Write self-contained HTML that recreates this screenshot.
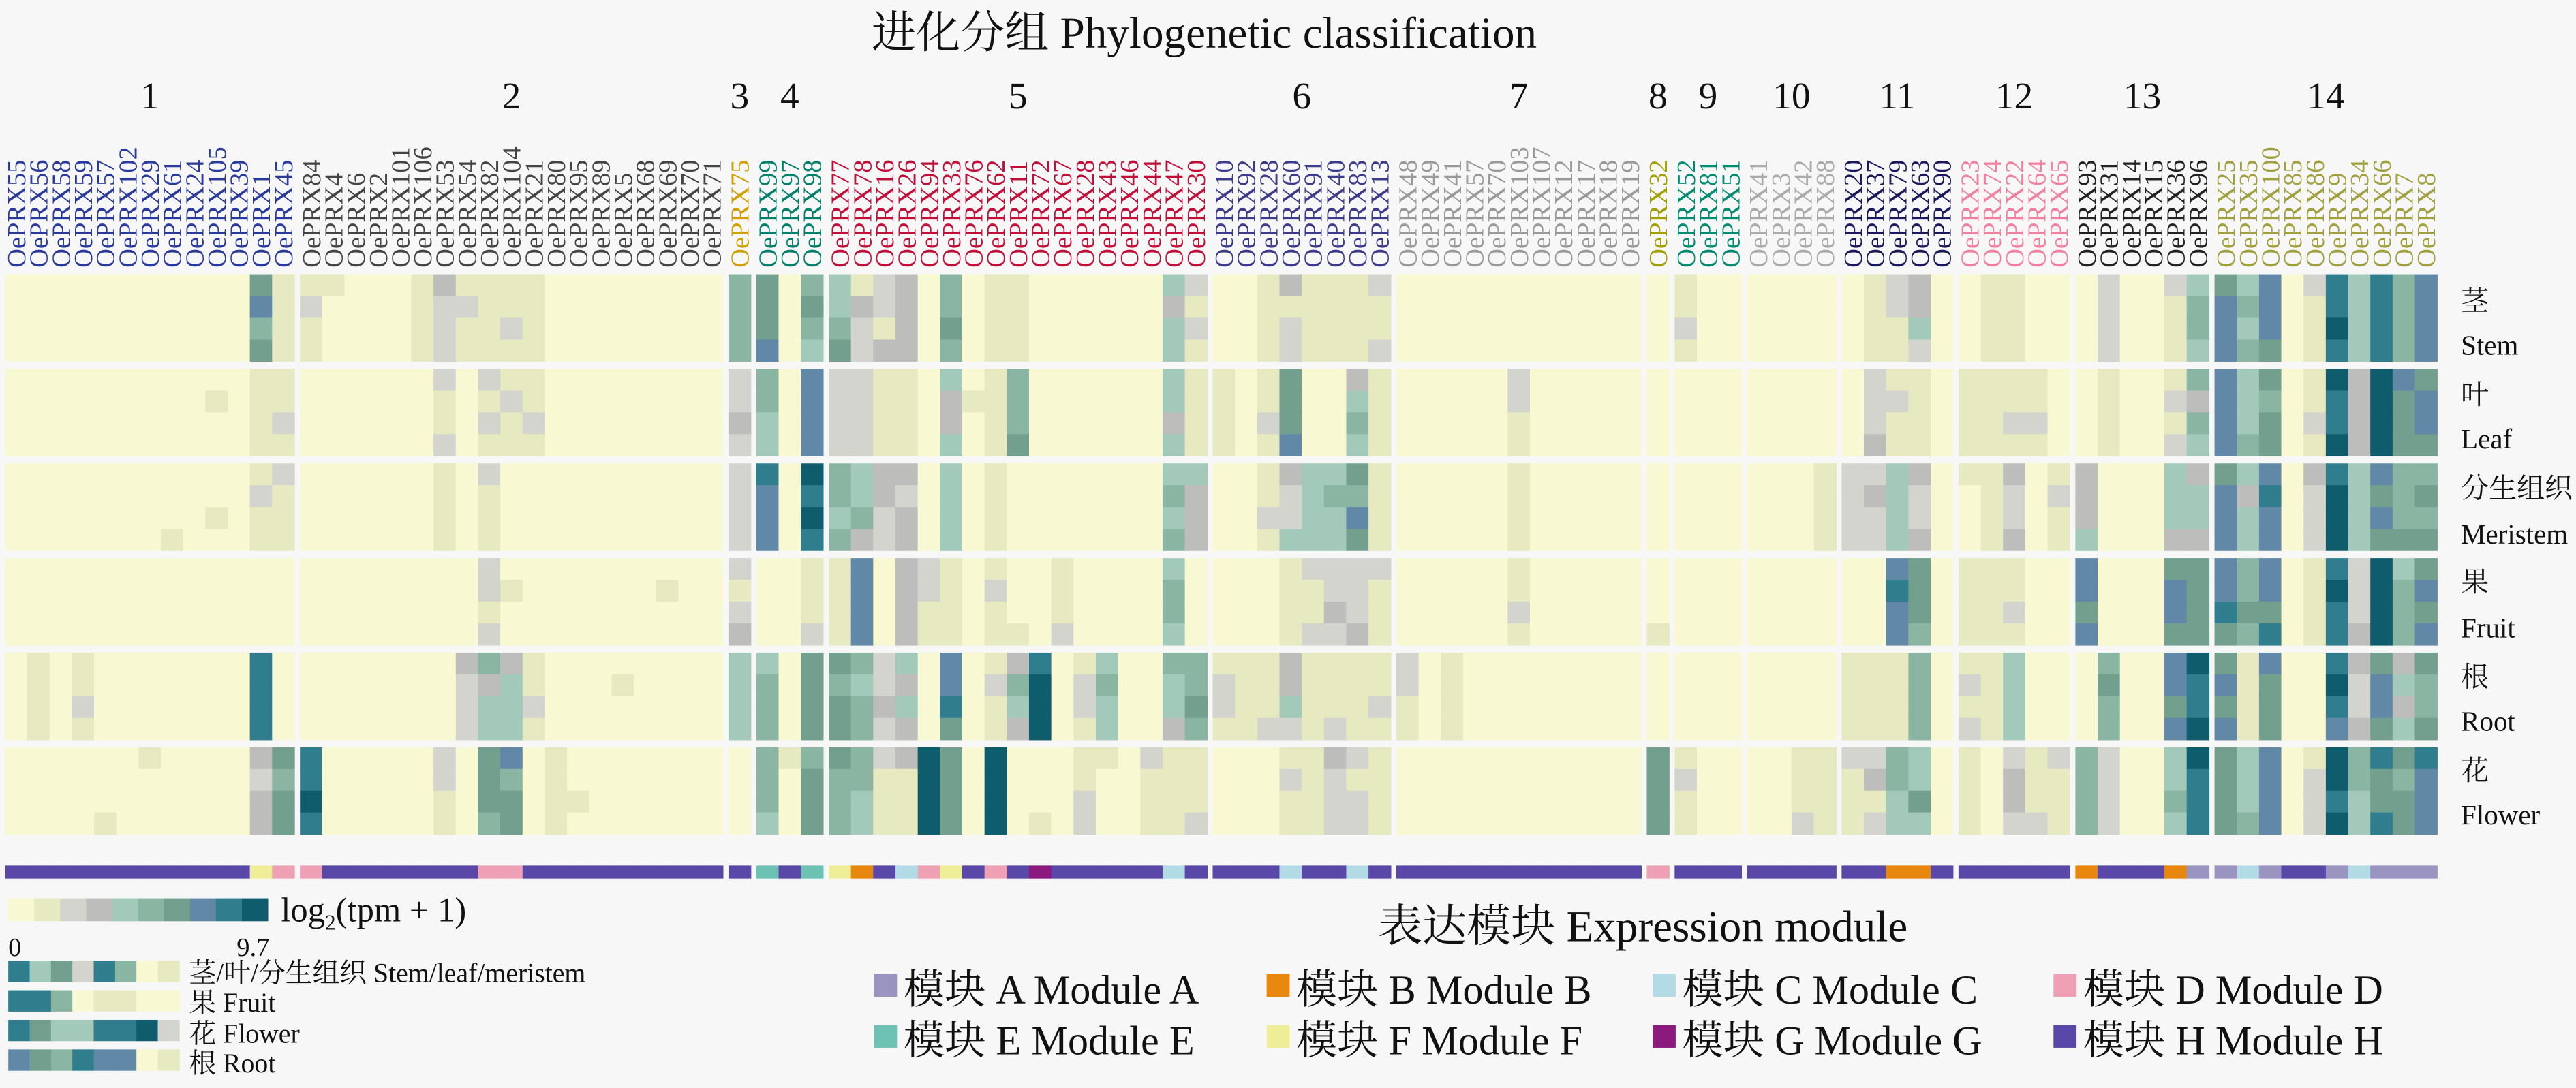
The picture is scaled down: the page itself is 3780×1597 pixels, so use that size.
<!DOCTYPE html>
<html><head><meta charset="utf-8">
<style>
html,body{margin:0;padding:0;background:#f7f7f7;}
svg{display:block;}
text{font-family:"Liberation Serif","Noto Serif CJK SC","Noto Sans CJK SC",serif;}
</style></head>
<body>
<svg id="s" width="3780" height="1597" viewBox="0 0 1568 662.5" xmlns="http://www.w3.org/2000/svg">
<rect width="1568" height="662.5" fill="#f7f7f7"/>
<text x="733" y="29" font-size="27" text-anchor="middle" fill="#111">进化分组 Phylogenetic classification</text>
<g id="hm"></g>
<g font-size="17" fill="#111">
<text x="1498" y="189">茎</text><text x="1498" y="216">Stem</text>
<text x="1498" y="246">叶</text><text x="1498" y="273">Leaf</text>
<text x="1498" y="303">分生组织</text><text x="1498" y="331">Meristem</text>
<text x="1498" y="360">果</text><text x="1498" y="388">Fruit</text>
<text x="1498" y="418">根</text><text x="1498" y="445">Root</text>
<text x="1498" y="475">花</text><text x="1498" y="502">Flower</text>
</g>
<g id="leg"></g>
<text x="171" y="561" font-size="21" fill="#111">log<tspan font-size="13" dy="5">2</tspan><tspan dy="-5">(tpm + 1)</tspan></text>
<text x="5" y="582" font-size="16" fill="#111">0</text>
<text x="144" y="582" font-size="16" fill="#111">9.7</text>
<g font-size="16.5" fill="#111">
<text x="115" y="598">茎/叶/分生组织  Stem/leaf/meristem</text>
<text x="115" y="616">果 Fruit</text>
<text x="115" y="635">花 Flower</text>
<text x="115" y="653">根 Root</text>
</g>
<text x="1000" y="573" font-size="27" text-anchor="middle" fill="#111">表达模块 Expression module</text>
<g font-size="25" fill="#111">
<rect x="532" y="593" width="14" height="14" fill="#9a95c0"/><text x="550" y="611">模块 A Module A</text>
<rect x="771" y="593" width="14" height="14" fill="#e8870e"/><text x="789" y="611">模块 B Module B</text>
<rect x="1006" y="593" width="14" height="14" fill="#b2dbe6"/><text x="1024" y="611">模块 C Module C</text>
<rect x="1250" y="593" width="14" height="14" fill="#f0a0b4"/><text x="1268" y="611">模块 D Module D</text>
<rect x="532" y="624" width="14" height="14" fill="#6ec2b4"/><text x="550" y="642">模块 E Module E</text>
<rect x="771" y="624" width="14" height="14" fill="#eeee98"/><text x="789" y="642">模块 F Module F</text>
<rect x="1006" y="624" width="14" height="14" fill="#8c1a7e"/><text x="1024" y="642">模块 G Module G</text>
<rect x="1250" y="624" width="14" height="14" fill="#5a48a8"/><text x="1268" y="642">模块 H Module H</text>
</g>
</svg>
<script>
var P=["#f8f9d3","#e7e9c1","#d4d4ce","#bdbdbb","#a2c9ba","#8ab5a3","#739f8f","#6288a8","#2f7d8d","#0f5c6c"];
var M={A:"#9a95c0",B:"#e8870e",C:"#b2dbe6",D:"#f0a0b4",E:"#6ec2b4",F:"#eeee98",G:"#8c1a7e",H:"#5a48a8"};
var groups=[
{c:"#2a3a9a",cols:[["OePRX55","000000","H"],["OePRX56","000010","H"],["OePRX58","000000","H"],["OePRX59","000010","H"],["OePRX57","000000","H"],["OePRX102","000000","H"],["OePRX29","000000","H"],["OePRX61","000000","H"],["OePRX24","000000","H"],["OePRX105","000000","H"],["OePRX39","000000","H"],["OePRX1","611083","F"],["OePRX45","111005","D"]]},
{c:"#444",cols:[["OePRX84","100009","D"],["OePRX4","000000","H"],["OePRX6","000000","H"],["OePRX2","000000","H"],["OePRX101","000000","H"],["OePRX106","100000","H"],["OePRX53","211001","H"],["OePRX54","100020","H"],["OePRX82","111146","D"],["OePRX104","110046","D"],["OePRX21","110010","H"],["OePRX80","000001","H"],["OePRX95","000000","H"],["OePRX89","000000","H"],["OePRX5","000000","H"],["OePRX68","000000","H"],["OePRX69","000000","H"],["OePRX70","000000","H"],["OePRX71","000000","H"]]},
{c:"#d0a000",cols:[["OePRX75","522240","H"]]},
{c:"#00806a",cols:[["OePRX99","657055","E"],["OePRX97","000000","H"],["OePRX98","579165","E"]]},
{c:"#c0103a",cols:[["OePRX77","525165","F"],["OePRX78","224755","B"],["OePRX16","212021","H"],["OePRX26","313342","C"],["OePRX94","000109","D"],["OePRX33","534176","F"],["OePRX76","000000","H"],["OePRX62","111119","D"],["OePRX11","150040","H"],["OePRX72","000090","G"],["OePRX67","000100","H"],["OePRX28","000021","H"],["OePRX43","000040","H"],["OePRX46","000000","H"],["OePRX44","000001","H"],["OePRX47","444541","C"],["OePRX30","213051","H"]]},
{c:"#3b3b8a",cols:[["OePRX10","010010","H"],["OePRX92","000010","H"],["OePRX28","111010","H"],["OePRX60","263131","C"],["OePRX91","104111","H"],["OePRX40","104212","H"],["OePRX83","146212","C"],["OePRX13","111111","H"]]},
{c:"#999",cols:[["OePRX48","000010","H"],["OePRX49","000000","H"],["OePRX41","000010","H"],["OePRX57","000000","H"],["OePRX70","000000","H"],["OePRX103","011100","H"],["OePRX107","000000","H"],["OePRX12","000000","H"],["OePRX17","000000","H"],["OePRX18","000000","H"],["OePRX19","000000","H"]]},
{c:"#a0a000",cols:[["OePRX32","000006","D"]]},
{c:"#008a70",cols:[["OePRX52","100001","H"],["OePRX81","000000","H"],["OePRX51","000000","H"]]},
{c:"#aaa",cols:[["OePRX41","000000","H"],["OePRX3","000000","H"],["OePRX42","000001","H"],["OePRX88","001001","H"]]},
{c:"#1a1a5a",cols:[["OePRX20","002011","H"],["OePRX37","122012","H"],["OePRX79","114714","B"],["OePRX63","313655","B"],["OePRX90","000000","H"]]},
{c:"#f080a0",cols:[["OePRX23","010111","H"],["OePRX74","111110","H"],["OePRX22","113142","H"],["OePRX64","010001","H"],["OePRX65","001001","H"]]},
{c:"#222",cols:[["OePRX93","003705","B"],["OePRX31","210052","H"],["OePRX14","000000","H"],["OePRX15","000000","H"],["OePRX36","114674","B"],["OePRX96","544688","A"]]},
{c:"#a0a040",cols:[["OePRX25","777766","A"],["OePRX35","444514","C"],["OePRX100","767767","A"],["OePRX85","000000","H"],["OePRX86","112102","H"],["OePRX9","889889","A"],["OePRX34","434234","C"],["OePRX66","897977","A"],["OePRX7","565546","A"],["OePRX8","776767","A"]]}
];
var NS="http://www.w3.org/2000/svg";
function el(n,a,p,t){var e=document.createElementNS(NS,n);for(var k in a)e.setAttribute(k,a[k]);if(t!=null)e.textContent=t;p.appendChild(e);return e;}
var hm=document.getElementById("hm");
var CW=13.55,GAP=3.4,idx=0;
function h(a,b,c){var x=(a*73856093)^(b*19349663)^(c*83492791);x=(x^(x>>>13))*1274126177;x=x^(x>>>16);return Math.abs(x);}
groups.forEach(function(g,gi){
  var gx0=3+idx*CW+gi*GAP;
  g.cols.forEach(function(c,ci){
    var x=3+idx*CW+gi*GAP;
    for(var t=0;t<6;t++){
      var lv=+c[1][t],y0=167+t*57.6,sh=53/4;
      for(var s=0;s<4;s++){
        var v=lv,r=h(idx,t,s)%7;
        if(lv>0){if(r==0)v=Math.max(1,lv-1);else if(r==1)v=Math.min(9,lv+1);}
        else if(r==0&&h(idx,t,s+9)%10==0)v=1;
        el("rect",{x:x.toFixed(2),y:(y0+s*sh).toFixed(2),width:(CW+0.3).toFixed(2),height:(sh+0.3).toFixed(2),fill:P[v]},hm);
      }
    }
    el("rect",{x:x.toFixed(2),y:527,width:(CW+0.3).toFixed(2),height:8,fill:M[c[2]]},hm);
    var tx=x+CW/2+5.5;
    el("text",{x:0,y:0,transform:"translate("+tx.toFixed(2)+",163) rotate(-90)","font-size":"16",fill:g.c},hm,c[0]);
    idx++;
  });
  var gx1=3+idx*CW+gi*GAP;
  el("text",{x:((gx0+gx1)/2).toFixed(1),y:66,"font-size":"23","text-anchor":"middle",fill:"#111"},hm,String(gi+1));
});
var leg=document.getElementById("leg");
for(var i=0;i<10;i++)el("rect",{x:5+i*15.8,y:547,width:16,height:14,fill:P[i]},leg);
var sw=[[8,4,6,2,8,5,0,1],[8,8,5,0,1,1,0,0],[8,6,4,4,8,8,9,2],[7,6,5,8,7,7,0,1]];
var sy=[585,603,621,639];
sw.forEach(function(r,ri){r.forEach(function(v,i){el("rect",{x:5+i*13,y:sy[ri],width:13.3,height:13,fill:P[v]},leg);});});
</script>
</body></html>
